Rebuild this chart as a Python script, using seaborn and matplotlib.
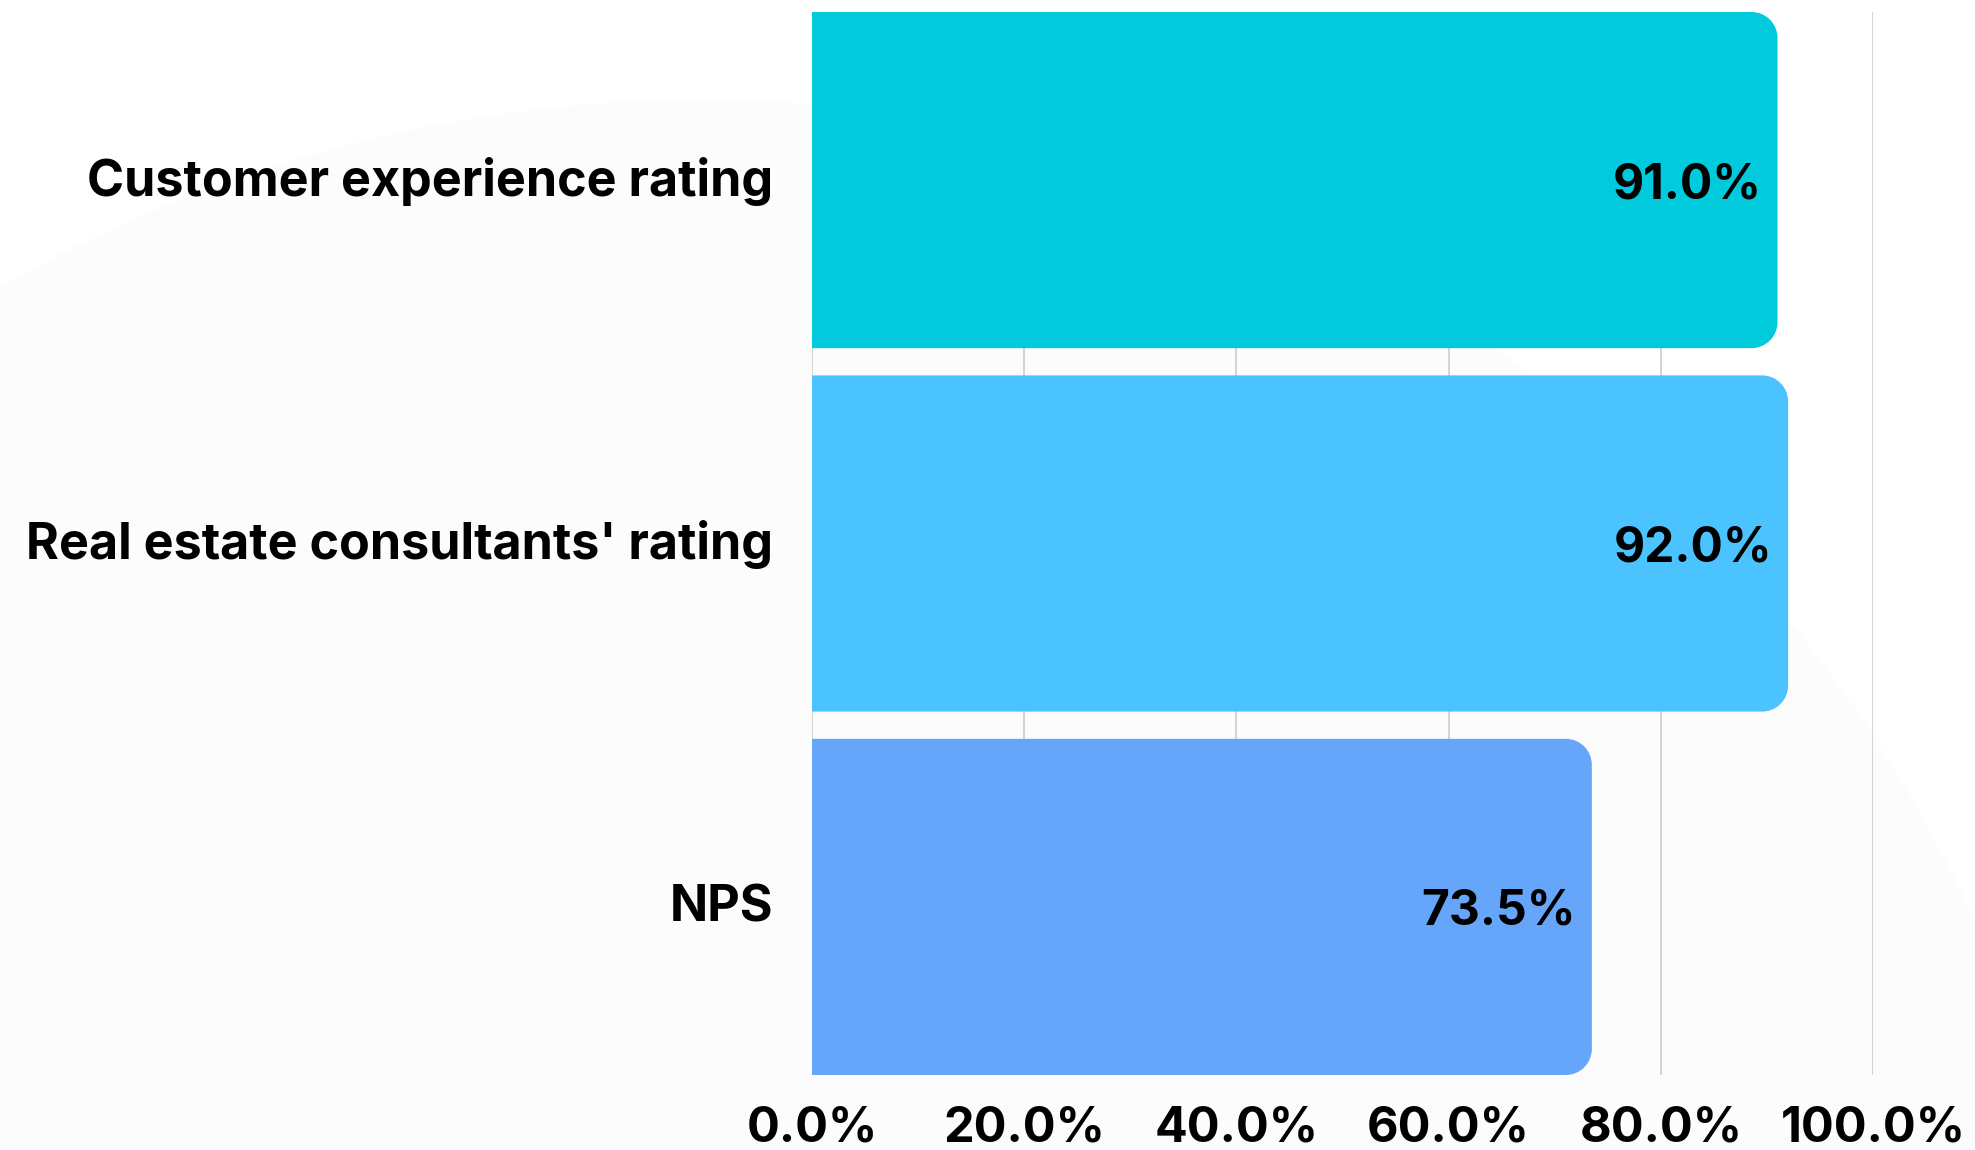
import matplotlib
matplotlib.use('Agg')
from matplotlib import pyplot as plt
from matplotlib.path import Path
from matplotlib.patches import PathPatch, Circle
from matplotlib.transforms import ScaledTranslation
import seaborn as sns
import pandas as pd

categories = ['Customer experience rating', "Real estate consultants' rating", 'NPS']
values = [91.0, 92.0, 73.5]
colors = ['#00CADC', '#4AC3FF', '#66A6FA']
ticks = [0, 20, 40, 60, 80, 100]

data = pd.DataFrame({'metric': categories, 'value': values})

sns.set_theme(style='white')
plt.rcParams['font.family'] = ['Inter', 'DejaVu Sans']
plt.rcParams['font.weight'] = 'bold'
plt.rcParams['text.color'] = 'black'
plt.rcParams['xtick.color'] = 'black'
plt.rcParams['ytick.color'] = 'black'

W, H = 1975, 1150
fig = plt.figure(figsize=(W / 100, H / 100), dpi=100)
fig.patch.set_facecolor('white')

# faint decorative arc in the background
bg = fig.add_axes([0, 0, 1, 1], zorder=-5)
bg.set_xlim(0, W)
bg.set_ylim(H, 0)
bg.axis('off')
bg.add_patch(Circle((700, 1500), 1400, fc='#fcfcfc', ec='none'))

ax = fig.add_axes([812 / W, 1 - 1075 / H, (1873 - 812) / W, (1075 - 12) / H])
ax.patch.set_alpha(0)

bar_w = 0.925
sns.barplot(data=data, x='value', y='metric', hue='metric', palette=colors,
            saturation=1, orient='h', width=bar_w, legend=False, ax=ax, zorder=3)

ax.set_xlim(0, 100)
ax.set_ylim(len(categories) - 1 + bar_w / 2, -bar_w / 2)

# rounded right corners
px_x = (1873 - 812) / 100
px_y = (1075 - 12) / (len(categories) - 1 + bar_w)
r = 26
rx, ry = r / px_x, r / px_y
k = 0.5523
for p in list(ax.patches):
    x0, y0 = p.get_x(), p.get_y()
    w, h = p.get_width(), p.get_height()
    x1, y1 = x0 + w, y0 + h
    verts = [
        (x0, y0), (x1 - rx, y0),
        (x1 - rx + k * rx, y0), (x1, y0 + ry - k * ry), (x1, y0 + ry),
        (x1, y1 - ry),
        (x1, y1 - ry + k * ry), (x1 - rx + k * rx, y1), (x1 - rx, y1),
        (x0, y1), (x0, y0),
    ]
    codes = [Path.MOVETO, Path.LINETO,
             Path.CURVE4, Path.CURVE4, Path.CURVE4,
             Path.LINETO,
             Path.CURVE4, Path.CURVE4, Path.CURVE4,
             Path.LINETO, Path.CLOSEPOLY]
    ax.add_patch(PathPatch(Path(verts, codes), fc=p.get_facecolor(), ec='none', zorder=3))
    p.set_visible(False)
    ax.text(x1 - 16 / px_x, y0 + h / 2 + 5 / px_y, f'{w:.1f}%', ha='right', va='center',
            fontsize=34.5, fontweight='bold', color='black', zorder=4)

ax.set_xticks(ticks)
ax.set_xticklabels([f'{t:.1f}%' for t in ticks])
ax.grid(axis='x', color='#d0d0d0', linewidth=1.3, zorder=0)
ax.grid(axis='y', visible=False)
ax.set_axisbelow(True)
for s in ax.spines.values():
    s.set_visible(False)
ax.tick_params(axis='x', length=0, pad=22, labelsize=35)
ax.tick_params(axis='y', length=0, pad=28, labelsize=36.2)
for lab in ax.get_xticklabels() + ax.get_yticklabels():
    lab.set_fontweight('bold')
shift = ScaledTranslation(0, 4 / 100, fig.dpi_scale_trans)
for lab in ax.get_yticklabels():
    lab.set_transform(lab.get_transform() + shift)
ax.set_xlabel('')
ax.set_ylabel('')

fig.savefig('out.png', dpi=100, facecolor='white')
